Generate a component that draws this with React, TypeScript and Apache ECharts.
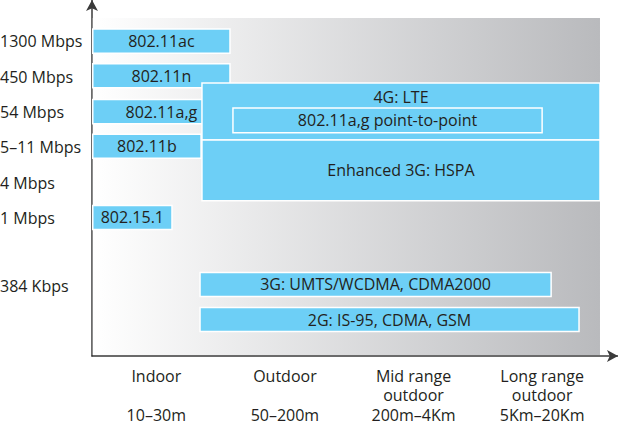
import React, { useEffect, useRef } from "react";
import * as echarts from "echarts";

// Y rows (data-rate levels), counted downward from the top row
const rateLabels = ["1300 Mbps", "450 Mbps", "54 Mbps", "5–11 Mbps", "4 Mbps", "1 Mbps", "384 Kbps"];
const rateRows = [0, 1, 2, 3, 4, 5, 6.9];

// X ranges (coverage columns)
const rangeNames = ["Indoor", "Outdoor", "Mid range\noutdoor", "Long range\noutdoor"];
const rangeDistances = ["10–30m", "50–200m", "200m–4Km", "5Km–20Km"];
const rangeCenters = [0.5, 1.5, 2.5, 3.5];

// Technology boxes: reach along x (start/end), data-rate rows (top/bottom)
const techNames = [
  "802.11ac",
  "802.11n",
  "802.11a,g",
  "802.11b",
  "4G: LTE",
  "Enhanced 3G: HSPA",
  "802.11a,g point-to-point",
  "802.15.1",
  "3G: UMTS/WCDMA, CDMA2000",
  "2G: IS-95, CDMA, GSM",
];
const techXStart = [0.006, 0.006, 0.006, 0.006, 0.855, 0.855, 1.096, 0.006, 0.84, 0.84];
const techXEnd = [1.073, 1.073, 1.073, 0.848, 3.95, 3.95, 3.5, 0.622, 3.57, 3.787];
const techRowTop = [-0.34, 0.64, 1.65, 2.63, 1.18, 2.79, 1.89, 4.64, 6.53, 7.52];
const techRowBottom = [0.34, 1.32, 2.33, 3.31, 2.79, 4.51, 2.59, 5.32, 7.21, 8.2];

// Shaded coverage field
const fieldX = [0.006, 3.95];
const fieldRows = [-0.65, 8.86];

const FONT = "'Open Sans', 'Noto Sans', sans-serif";
const TEXT = "#231f20";
const BLUE = "#6dcff6";
const FS = 16;

export default function App() {
  const ref = useRef<HTMLDivElement>(null);
  useEffect(() => {
    const chart = echarts.init(ref.current!, null, { renderer: "svg" });
    const topLabel = ["4G: LTE"];
    chart.setOption({
      animation: false,
      backgroundColor: "#ffffff",
      textStyle: { fontFamily: FONT },
      grid: { left: 92, right: 0, top: 0, bottom: 70, containLabel: false, outerBoundsMode: "none" },
      xAxis: {
        type: "value",
        position: "bottom",
        min: 0,
        max: 4.09,
        splitLine: { show: false },
        axisTick: { show: false },
        axisLine: {
          show: true,
          onZero: false,
          symbol: ["none", "arrow"],
          symbolSize: [9, 11],
          lineStyle: { color: "#3a3a3a", width: 1.5 },
        },
        axisLabel: {
          customValues: rangeCenters,
          margin: 10,
          color: TEXT,
          fontFamily: FONT,
          fontSize: FS,
          lineHeight: 19.5,
          formatter: (v: number) => {
            const i = rangeCenters.indexOf(v);
            if (i < 0) return "";
            const n = rangeNames[i];
            return n + (n.includes("\n") ? "\n" : "\n\n") + rangeDistances[i];
          },
        },
      },
      yAxis: {
        type: "value",
        inverse: true,
        min: -1.16,
        max: 8.89,
        splitLine: { show: false },
        axisTick: { show: false },
        axisLine: {
          show: true,
          onZero: false,
          symbol: ["none", "arrow"],
          symbolSize: [9, 11],
          lineStyle: { color: "#3a3a3a", width: 1.5 },
        },
        axisLabel: {
          customValues: rateRows,
          margin: 92,
          align: "left",
          color: TEXT,
          fontFamily: FONT,
          fontSize: FS,
          formatter: (v: number) => {
            const i = rateRows.indexOf(v);
            return i < 0 ? "" : rateLabels[i];
          },
        },
      },
      series: [
        {
          type: "custom",
          silent: true,
          data: [[fieldX[0], fieldX[1], fieldRows[0], fieldRows[1]]],
          renderItem: (params: any, api: any) => {
            const p0 = api.coord([api.value(0), api.value(2)]);
            const p1 = api.coord([api.value(1), api.value(3)]);
            return {
              type: "rect",
              shape: { x: p0[0], y: Math.min(p0[1], p1[1]), width: p1[0] - p0[0], height: Math.abs(p1[1] - p0[1]) },
              style: {
                fill: new echarts.graphic.LinearGradient(0, 0, 1, 0, [
                  { offset: 0, color: "#ffffff" },
                  { offset: 1, color: "#b9babd" },
                ]),
              },
            };
          },
        },
        {
          type: "custom",
          silent: true,
          data: techNames.map((_, i) => [techXStart[i], techXEnd[i], techRowTop[i], techRowBottom[i]]),
          renderItem: (params: any, api: any) => {
            const i = params.dataIndex;
            const p0 = api.coord([api.value(0), api.value(2)]);
            const p1 = api.coord([api.value(1), api.value(3)]);
            const x = p0[0];
            const y = Math.min(p0[1], p1[1]);
            const w = p1[0] - p0[0];
            const h = Math.abs(p1[1] - p0[1]);
            const name = techNames[i];
            const atTop = topLabel.includes(name);
            return {
              type: "group",
              children: [
                {
                  type: "rect",
                  shape: { x, y, width: w, height: h },
                  style: { fill: BLUE, stroke: "#ffffff", lineWidth: 1.5 },
                },
                {
                  type: "text",
                  style: {
                    text: name,
                    x: x + w / 2,
                    y: atTop ? y + 14 : y + h / 2,
                    align: "center",
                    verticalAlign: "middle",
                    fill: TEXT,
                    font: `${FS}px ${FONT}`,
                  },
                },
              ],
            };
          },
        },
      ],
    });
    return () => chart.dispose();
  }, []);
  return (
    <div
      ref={ref}
      style={{ position: "fixed", left: 0, top: 0, width: 618, height: 426, background: "#fff" }}
    />
  );
}
